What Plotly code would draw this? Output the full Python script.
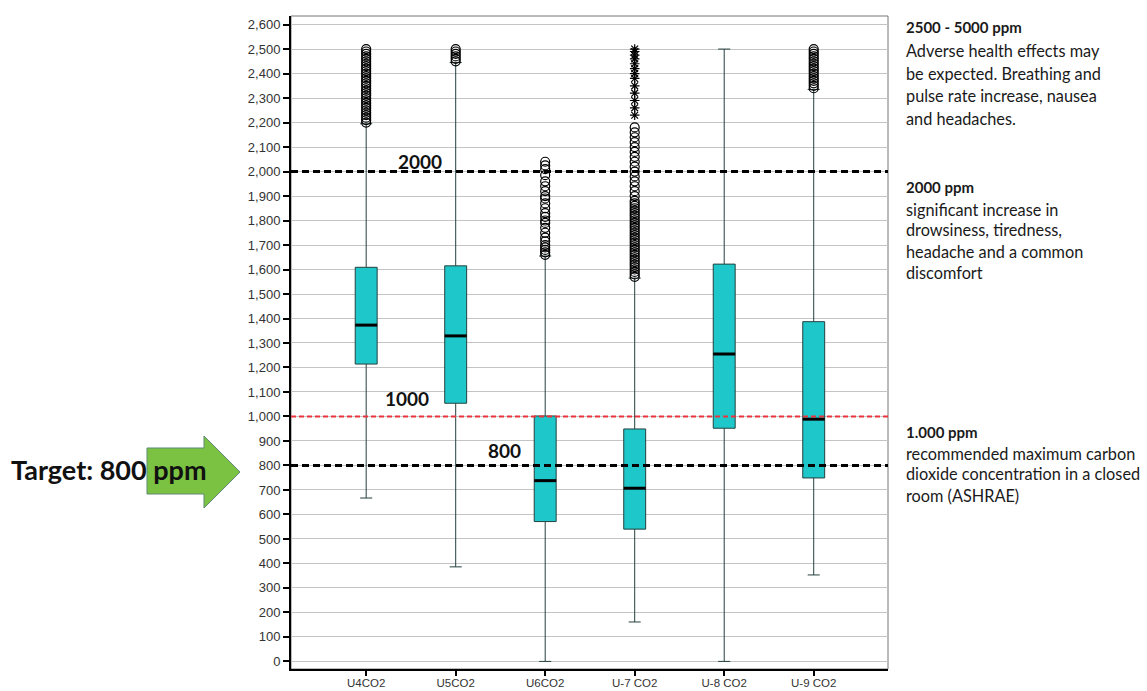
import plotly.graph_objects as go

# ---------------- data ----------------
categories = ["U4CO2", "U5CO2", "U6CO2", "U-7 CO2", "U-8 CO2", "U-9 CO2"]
q1 = [1214, 1054, 571, 540, 952, 749]
median = [1373, 1329, 738, 707, 1255, 989]
q3 = [1609, 1615, 1002, 949, 1622, 1387]
lower_whisker = [667, 386, 0, 161, 0, 353]
upper_whisker = [2195, 2445, 1655, 1565, 2500, 2335]

outliers_u4 = [2200, 2210, 2220, 2230, 2240, 2250, 2260, 2270, 2280, 2290, 2300,
               2310, 2320, 2330, 2340, 2350, 2360, 2370, 2380, 2390, 2400, 2410,
               2420, 2430, 2440, 2450, 2460, 2470, 2480, 2490, 2500]
outliers_u5 = [2450, 2460, 2470, 2480, 2490, 2500]
outliers_u6 = [1660, 1670, 1680, 1690, 1700, 1715, 1730, 1750, 1770, 1790, 1800,
               1815, 1830, 1850, 1870, 1890, 1900, 1920, 1940, 1960, 1985, 2010,
               2025, 2040]
outliers_u7 = [1570, 1580, 1590, 1600, 1610, 1620, 1630, 1640, 1650, 1660, 1670,
               1680, 1690, 1700, 1710, 1720, 1730, 1740, 1750, 1760, 1770, 1780,
               1790, 1800, 1810, 1820, 1830, 1840, 1850, 1860, 1870, 1880, 1900,
               1920, 1940, 1960, 1980, 2000, 2020, 2040, 2060, 2080, 2100, 2120,
               2140, 2160, 2180]
extremes_u7 = [2230, 2260, 2290, 2320, 2350, 2380, 2400, 2420, 2440, 2460, 2475,
               2490, 2500]
outliers_u8 = []
outliers_u9 = [2340, 2350, 2360, 2370, 2380, 2390, 2400, 2410, 2420, 2430, 2440,
               2450, 2460, 2470, 2480, 2490, 2500]
outliers = [outliers_u4, outliers_u5, outliers_u6, outliers_u7, outliers_u8, outliers_u9]

ref_levels = [2000, 1000, 800]
ref_labels = ["2000", "1000", "800"]

y_ticks = list(range(0, 2700, 100))
y_ticktext = [f"{v:,}" for v in y_ticks]

# ---------------- layout geometry ----------------
W, H = 1147, 691
L, R, T, B = 291, 888, 16, 669
BOX_W = 0.245


def px(x):
    return (x - L) / (R - L)


def py(y):
    return (B - y) / (B - T)


fig = go.Figure()

fig.add_trace(go.Box(
    x=categories, q1=q1, median=median, q3=q3,
    lowerfence=lower_whisker, upperfence=upper_whisker,
    boxpoints=False, width=BOX_W, whiskerwidth=0.55,
    fillcolor="#1EC8CA", line=dict(color="#24403f", width=1),
    showlegend=False, hoverinfo="skip",
))

for cat, vals in zip(categories, outliers):
    if vals:
        fig.add_trace(go.Scatter(
            x=[cat] * len(vals), y=vals, mode="markers",
            marker=dict(symbol="circle-open", size=9, color="black",
                        line=dict(width=1.2, color="black")),
            showlegend=False, hoverinfo="skip"))

fig.add_trace(go.Scatter(
    x=[categories[3]] * len(extremes_u7), y=extremes_u7, mode="markers",
    marker=dict(symbol="asterisk-open", size=8, color="black",
                line=dict(width=1.2, color="black")),
    showlegend=False, hoverinfo="skip"))

shapes = []
# medians
for i, m in enumerate(median):
    shapes.append(dict(type="line", xref="x", yref="y",
                       x0=i - BOX_W / 2, x1=i + BOX_W / 2, y0=m, y1=m,
                       line=dict(color="black", width=3), layer="above"))
# reference lines
shapes.append(dict(type="line", xref="paper", yref="y", x0=0, x1=1,
                   y0=ref_levels[0], y1=ref_levels[0],
                   line=dict(color="black", width=3, dash="7px,4px")))
shapes.append(dict(type="line", xref="paper", yref="y", x0=0, x1=1,
                   y0=ref_levels[1], y1=ref_levels[1],
                   line=dict(color="#E8343A", width=2, dash="5px,3px")))
shapes.append(dict(type="line", xref="paper", yref="y", x0=0, x1=1,
                   y0=ref_levels[2], y1=ref_levels[2],
                   line=dict(color="black", width=3, dash="7px,4px")))
# frame (top/right thin)
shapes.append(dict(type="rect", xref="paper", yref="paper", x0=0, x1=1, y0=0, y1=1,
                   line=dict(color="#777777", width=1), layer="below"))
# green arrow
ax = [147, 204, 204, 240, 204, 204, 147]
ay = [448, 448, 436, 472, 508, 494, 494]
path = "M " + " L ".join(f"{px(a):.5f},{py(b):.5f}" for a, b in zip(ax, ay)) + " Z"
shapes.append(dict(type="path", xref="paper", yref="paper", path=path,
                   fillcolor="#7CC242", line=dict(color="#5F8A74", width=1),
                   layer="below"))

annotations = []
# ref labels
for txt, (cx, cy) in zip(ref_labels, [(420, 161), (407, 398), (504, 450)]):
    annotations.append(dict(text=f"<b>{txt}</b>", xref="paper", yref="paper",
                            x=px(cx), y=py(cy), showarrow=False,
                            xanchor="center", yanchor="middle",
                            font=dict(family="Lato", size=19, color="#111")))
# right-hand notes
notes = [
    ("<b>2500 - 5000 ppm</b>", 27, 15),
    ("Adverse health effects may", 50, 16.3),
    ("be expected. Breathing and", 73, 16.3),
    ("pulse rate increase, nausea", 96, 16.3),
    ("and headaches.", 118, 16.3),
    ("<b>2000 ppm</b>", 187, 15),
    ("significant increase in", 209, 16.3),
    ("drowsiness, tiredness,", 230, 16.3),
    ("headache and a common", 251, 16.3),
    ("discomfort", 272, 16.3),
    ("<b>1.000 ppm</b>", 432, 15),
    ("recommended maximum carbon", 453, 16.3),
    ("dioxide concentration in a closed", 474, 16.3),
    ("room (ASHRAE)", 495, 16.3),
]
for txt, yy, fs in notes:
    annotations.append(dict(text=txt, xref="paper", yref="paper",
                            x=px(904), y=py(yy), showarrow=False,
                            xanchor="left", yanchor="middle",
                            font=dict(family="Lato", size=fs, color="#1a1a1a")))
# target label
annotations.append(dict(text="<b>Target: 800 ppm</b>", xref="paper", yref="paper",
                        x=px(9), y=py(469), showarrow=False,
                        xanchor="left", yanchor="middle",
                        font=dict(family="Lato", size=27, color="#111")))

fig.update_layout(
    width=W, height=H,
    margin=dict(l=L, r=W - R, t=T, b=H - B, pad=0, autoexpand=False),
    paper_bgcolor="white", plot_bgcolor="white",
    shapes=shapes, annotations=annotations,
    showlegend=False,
    xaxis=dict(type="category", range=[-0.84, 5.83], showgrid=False,
               showline=True, linecolor="black", linewidth=2,
               ticks="outside", ticklen=5, tickcolor="black", tickwidth=2,
               ticklabelstandoff=-3,
               tickfont=dict(family="Arial", size=11.5, color="#333"),
               zeroline=False, fixedrange=True, automargin=False),
    yaxis=dict(range=[-31, 2635], tickvals=y_ticks, ticktext=y_ticktext,
               showgrid=True, gridcolor="#C4C4C4", gridwidth=1,
               showline=True, linecolor="black", linewidth=2,
               ticks="outside", ticklen=6, tickcolor="black", tickwidth=2,
               tickfont=dict(family="Arial", size=13, color="#333"),
               zeroline=False, fixedrange=True, automargin=False),
)

fig.write_html("out.html", config={"displayModeBar": False},
               post_script="document.body.style.margin='0';document.body.style.overflow='hidden';")
